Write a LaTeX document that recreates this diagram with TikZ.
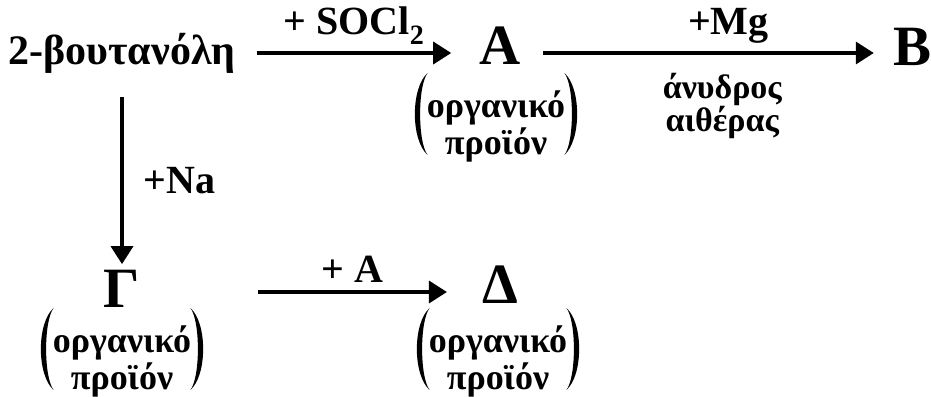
\documentclass[tikz,border=0pt]{standalone}
\usepackage{fontspec}
\setmainfont{Liberation Serif}
\usetikzlibrary{arrows.meta}

\tikzset{
  chem/.style = {font=\fontsize{42}{48}\selectfont\bfseries, inner sep=0pt},
  prod/.style = {font=\fontsize{57}{64}\selectfont\bfseries, inner sep=0pt, text depth=0pt},
  reag/.style = {font=\fontsize{40}{44}\selectfont\bfseries, inner sep=0pt},
  note/.style = {font=\fontsize{36}{37}\selectfont\bfseries, inner sep=0pt, align=center},
  cond/.style = {font=\fontsize{34}{33}\selectfont\bfseries, inner sep=0pt, align=center},
  arr/.style  = {line width=3.5pt, -{Triangle[length=18pt,width=22pt]}}
}
\newcommand{\organic}{οργανικό\\προϊόν}
% round brackets drawn around a named node
\newcommand{\pbrackets}[1]{%
  \fill ([xshift=1pt,yshift=53pt]#1.west) .. controls ([xshift=-16pt,yshift=38pt]#1.west) and ([xshift=-16pt,yshift=-14pt]#1.west) .. ([xshift=1pt,yshift=-29pt]#1.west)
     .. controls ([xshift=-9pt,yshift=-16pt]#1.west) and ([xshift=-9pt,yshift=40pt]#1.west) .. cycle;
  \fill ([xshift=-1pt,yshift=53pt]#1.east) .. controls ([xshift=16pt,yshift=38pt]#1.east) and ([xshift=16pt,yshift=-14pt]#1.east) .. ([xshift=-1pt,yshift=-29pt]#1.east)
     .. controls ([xshift=9pt,yshift=-16pt]#1.east) and ([xshift=9pt,yshift=40pt]#1.east) .. cycle;
}

\begin{document}
\begin{tikzpicture}[x=1pt, y=-1pt]
            \useasboundingbox (0,0) rectangle (931,396);
            % top row
            \node[chem] (but) at (122,53) {2-βουτανόλη};
            \node[prod] (A) at (500,46) {Α};
            \node[prod] (B) at (912,47) {Β};
            \node[note] (Aprod) at (496,126) {\organic};
            \pbrackets{Aprod}
            % bottom row
            \node[prod] (G) at (122,289) {Γ};
            \node[prod] (D) at (500,285) {Δ};
            \node[note] (Gprod) at (122,361) {\organic};
            \node[note] (Dprod) at (498,361) {\organic};
            \pbrackets{Gprod}
            \pbrackets{Dprod}
            % reactions
            \draw[arr] ([xshift=21pt]but.east) -- ([xshift=-28pt]A.west |- but.east)
                node[reag, midway, above=7pt] {+ SOCl$_\mathbf{2}$};
            \draw[arr] ([xshift=22pt]A.east |- but.east) -- ([xshift=-19pt]B.west |- but.east)
                node[reag, midway, above=8pt, xshift=20pt] (Mg) {+Mg}
                node[cond, midway, below=18pt, xshift=14pt] (ether) {άνυδρος\\αιθέρας};
            \draw[arr] ([yshift=-24pt]but.south) -- ([yshift=6pt]G.north)
                node[reag, midway, right=20pt] {+Na};
            \draw[arr] ([xshift=118pt,yshift=-3pt]G.east) -- ([xshift=-35pt,yshift=-7pt]D.west)
                node[reag, midway, above=8pt] {+ Α};
        \end{tikzpicture}
\end{document}
